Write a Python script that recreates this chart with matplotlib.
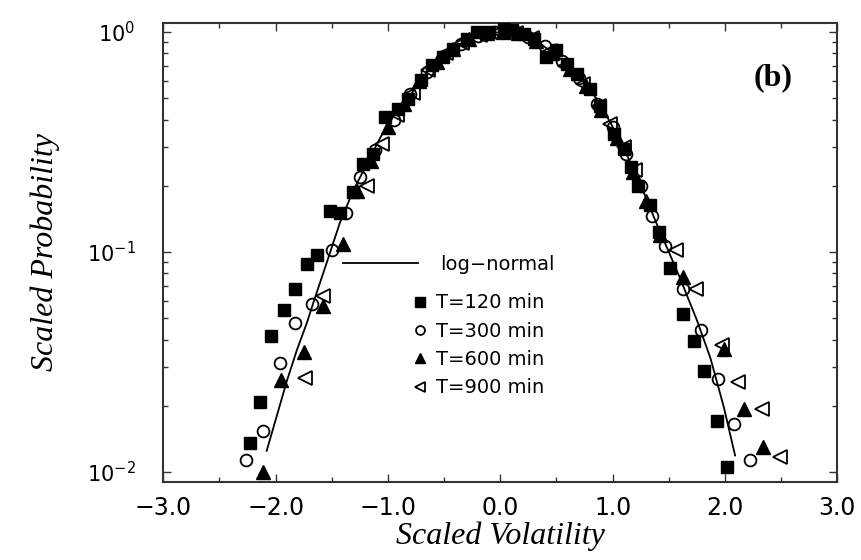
import numpy as np
import matplotlib
matplotlib.use("Agg")
import matplotlib.pyplot as plt
from matplotlib.ticker import MultipleLocator, FuncFormatter, LogLocator, NullFormatter

# log-normal curve
curve_x = [-2.08, -1.99, -1.90, -1.81, -1.72, -1.65, -1.55, -1.43, -1.31, -1.19,
           -1.07, -0.95, -0.82, -0.70, -0.61, -0.50, -0.42, -0.30, -0.20, -0.08,
           0.05, 0.20, 0.35, 0.47, 0.59, 0.70, 0.80, 0.92, 1.00, 1.10,
           1.19, 1.30, 1.39, 1.50, 1.60, 1.75, 1.87, 1.99, 2.09]
curve_y = [0.0125, 0.018, 0.026, 0.036, 0.048, 0.062, 0.088, 0.135, 0.19, 0.25,
           0.33, 0.415, 0.50, 0.61, 0.70, 0.78, 0.84, 0.92, 0.96, 0.99,
           1.0, 0.97, 0.89, 0.80, 0.72, 0.63, 0.55, 0.44, 0.37, 0.295,
           0.235, 0.175, 0.135, 0.100, 0.076, 0.049, 0.033, 0.0197, 0.0119]

# T=120 min (filled squares)
t120_x = [-2.23, -2.14, -2.04, -1.93, -1.83, -1.72, -1.63, -1.52, -1.43, -1.31,
          -1.22, -1.13, -1.03, -0.91, -0.82, -0.71, -0.61, -0.51, -0.42, -0.30,
          -0.21, -0.10, 0.03, 0.10, 0.21, 0.30, 0.41, 0.50, 0.59, 0.68,
          0.80, 0.89, 1.01, 1.10, 1.16, 1.23, 1.33, 1.41, 1.51, 1.63,
          1.72, 1.81, 1.93, 2.02]
t120_y = [0.0135, 0.0208, 0.0417, 0.0546, 0.068, 0.0884, 0.0965, 0.154, 0.150, 0.187,
          0.252, 0.279, 0.41, 0.448, 0.497, 0.602, 0.704, 0.768, 0.839, 0.931,
          0.998, 1.0, 1.03, 1.02, 0.981, 0.93, 0.768, 0.824, 0.717, 0.645,
          0.552, 0.463, 0.345, 0.294, 0.243, 0.200, 0.163, 0.123, 0.0848, 0.0524,
          0.0396, 0.0289, 0.0171, 0.0105]

# T=300 min (open circles)
t300_x = [-2.26, -2.11, -1.96, -1.83, -1.68, -1.50, -1.37, -1.25, -1.12, -0.95,
          -0.80, -0.65, -0.50, -0.35, -0.20, -0.05, 0.10, 0.25, 0.40, 0.55,
          0.70, 0.86, 1.00, 1.12, 1.25, 1.35, 1.47, 1.63, 1.79, 1.94,
          2.08, 2.22]
t300_y = [0.0113, 0.0154, 0.0312, 0.0475, 0.0582, 0.1016, 0.150, 0.22, 0.29, 0.40,
          0.52, 0.66, 0.78, 0.88, 0.96, 1.0, 1.0, 0.95, 0.86, 0.74,
          0.62, 0.47, 0.37, 0.28, 0.20, 0.145, 0.107, 0.068, 0.044, 0.0266,
          0.0166, 0.0113]

# T=600 min (filled triangles)
t600_x = [-2.11, -1.95, -1.75, -1.58, -1.40, -1.28, -1.15, -1.00, -0.86, -0.72,
          -0.56, -0.42, -0.28, -0.12, 0.02, 0.16, 0.32, 0.46, 0.62, 0.76,
          0.90, 1.04, 1.18, 1.30, 1.42, 1.63, 1.99, 2.17, 2.34]
t600_y = [0.00998, 0.0261, 0.035, 0.0566, 0.109, 0.19, 0.26, 0.37, 0.47, 0.60,
          0.73, 0.84, 0.93, 0.99, 1.0, 0.99, 0.91, 0.80, 0.68, 0.57,
          0.44, 0.33, 0.23, 0.17, 0.12, 0.0768, 0.0363, 0.0194, 0.0130]

# T=900 min (open left triangles)
t900_x = [-1.74, -1.58, -1.19, -1.05, -0.92, -0.78, -0.64, -0.48, -0.34, -0.18,
          -0.02, 0.14, 0.28, 0.44, 0.58, 0.74, 0.88, 0.98, 1.10, 1.20,
          1.56, 1.74, 1.97, 2.12, 2.33, 2.49]
t900_y = [0.0268, 0.0628, 0.200, 0.31, 0.42, 0.53, 0.67, 0.80, 0.89, 0.97,
          1.0, 0.99, 0.94, 0.82, 0.70, 0.58, 0.46, 0.38, 0.30, 0.235,
          0.1016, 0.068, 0.0376, 0.0256, 0.0194, 0.0117]

x_ticks = [-3.0, -2.0, -1.0, 0.0, 1.0, 2.0, 3.0]

fig = plt.figure(figsize=(8.61, 5.6), dpi=100)
ax = fig.add_axes([0.1897, 0.1393, 0.7828, 0.8202])

sq, = ax.plot(t120_x, t120_y, ls="none", marker="s", ms=9, color="black", zorder=3)
ci, = ax.plot(t300_x, t300_y, ls="none", marker="o", ms=8.5, mfc="none", mec="black", mew=1.3, zorder=3)
tu, = ax.plot(t600_x, t600_y, ls="none", marker="^", ms=9.5, color="black", zorder=3)
tl, = ax.plot(t900_x, t900_y, ls="none", marker="<", ms=9.5, mfc="none", mec="black", mew=1.3, zorder=3)
ln, = ax.plot(curve_x, curve_y, color="black", lw=1.3, zorder=4)

ax.set_yscale("log")
ax.set_xlim(-3, 3)
ax.set_ylim(10 ** -2.045, 10 ** 0.042)

ax.set_xticks(x_ticks)
ax.xaxis.set_minor_locator(MultipleLocator(0.5))
ax.xaxis.set_major_formatter(FuncFormatter(lambda v, p: f"{v:.1f}".replace("-", "\u2212")))
ax.yaxis.set_major_locator(LogLocator(base=10))
ax.yaxis.set_minor_locator(LogLocator(base=10, subs=np.arange(2, 10)))
ax.yaxis.set_minor_formatter(NullFormatter())

ax.tick_params(which="both", direction="in", top=True, right=True, width=1, colors="#333333")
ax.tick_params(which="major", length=6)
ax.tick_params(which="minor", length=3.5)
ax.tick_params(axis="x", labelsize=17, pad=10, labelcolor="black")
ax.tick_params(axis="y", labelsize=15, pad=20, labelcolor="black")
for s in ax.spines.values():
    s.set_linewidth(1.5)
    s.set_color("#333333")

ax.set_xlabel("Scaled Volatility", family="Liberation Serif", style="italic", fontsize=23)
ax.set_ylabel("Scaled Probability", family="Liberation Serif", style="italic", fontsize=23)
ax.xaxis.set_label_coords(0.5, -0.085)
ax.yaxis.set_label_coords(-0.153, 0.5)

ax.text(0.905, 0.88, "(b)", transform=ax.transAxes, family="Liberation Serif",
        weight="bold", fontsize=23, ha="center", va="center")

leg1 = ax.legend([ln], ["log\u2212normal"], loc="center left", bbox_to_anchor=(0.2666, 0.4746),
                 frameon=False, fontsize=14, handlelength=3.86, handletextpad=1.13,
                 borderpad=0, borderaxespad=0)
ax.add_artist(leg1)
ax.legend([sq, ci, tu, tl], ["T=120 min", "T=300 min", "T=600 min", "T=900 min"],
          loc="center left", bbox_to_anchor=(0.369, 0.2972), frameon=False, fontsize=14,
          handlelength=0.8, handletextpad=0.44, labelspacing=0.48, numpoints=1,
          markerscale=0.75, borderpad=0, borderaxespad=0)

fig.savefig("out.png", dpi=100)
